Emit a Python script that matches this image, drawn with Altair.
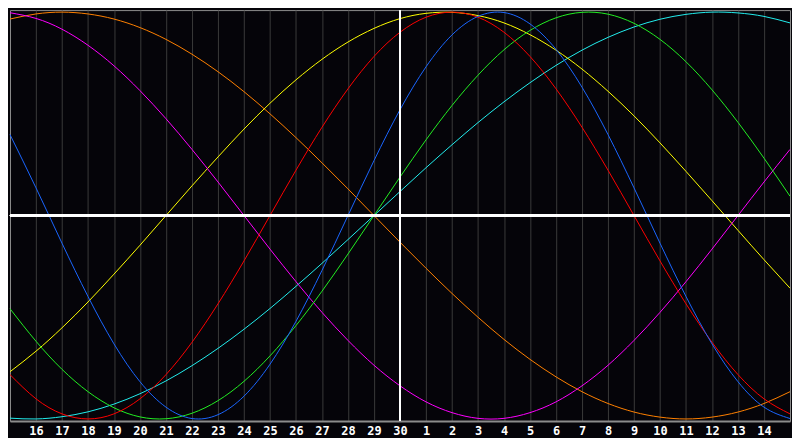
import altair as alt
import pandas as pd

# Day labels along the bottom (index 1..29), plot spans index 0..30
day_labels = ["16", "17", "18", "19", "20", "21", "22", "23", "24", "25", "26", "27", "28", "29", "30",
              "1", "2", "3", "4", "5", "6", "7", "8", "9", "10", "11", "12", "13", "14"]
day_index = list(range(31))
today_index = 15

# cycle values read per day (index 0..30)
physical = [0.398, 0.136, -0.136, -0.398, -0.631, -0.817, -0.942, -0.998, -0.979, -0.888, -0.731,
            -0.520, -0.270, 0.000, 0.270, 0.520, 0.731, 0.888, 0.979, 0.998, 0.942, 0.817, 0.631,
            0.398, 0.136, -0.136, -0.398, -0.631, -0.817, -0.942, -0.998]
emotional = [-0.782, -0.901, -0.975, -1.000, -0.975, -0.901, -0.782, -0.623, -0.434, -0.223, 0.000,
             0.223, 0.434, 0.623, 0.782, 0.901, 0.975, 1.000, 0.975, 0.901, 0.782, 0.623, 0.434,
             0.223, 0.000, -0.223, -0.434, -0.623, -0.782, -0.901, -0.975]
intellectual = [-0.458, -0.618, -0.756, -0.866, -0.945, -0.990, -0.999, -0.972, -0.910, -0.815,
                -0.690, -0.541, -0.372, -0.189, 0.000, 0.189, 0.372, 0.541, 0.690, 0.815, 0.910,
                0.972, 0.999, 0.990, 0.945, 0.866, 0.756, 0.618, 0.458, 0.282, 0.095]
intuitive = [0.997, 0.969, 0.916, 0.837, 0.736, 0.614, 0.476, 0.325, 0.165, 0.000, -0.165, -0.325,
             -0.476, -0.614, -0.736, -0.837, -0.916, -0.969, -0.997, -0.997, -0.969, -0.916, -0.837,
             -0.736, -0.614, -0.476, -0.325, -0.165, 0.000, 0.165, 0.325]
aesthetic = [-0.768, -0.667, -0.552, -0.425, -0.288, -0.146, 0.000, 0.146, 0.288, 0.425, 0.552,
             0.667, 0.768, 0.853, 0.920, 0.968, 0.994, 0.999, 0.983, 0.947, 0.889, 0.813, 0.720,
             0.611, 0.490, 0.357, 0.217, 0.073, -0.073, -0.217, -0.357]
awareness = [0.966, 0.991, 1.000, 0.991, 0.966, 0.924, 0.866, 0.793, 0.707, 0.609, 0.500, 0.383,
             0.259, 0.131, 0.000, -0.131, -0.259, -0.383, -0.500, -0.609, -0.707, -0.793, -0.866,
             -0.924, -0.966, -0.991, -1.000, -0.991, -0.966, -0.924, -0.866]
spiritual = [-0.996, -1.000, -0.989, -0.965, -0.927, -0.876, -0.813, -0.738, -0.653, -0.559, -0.457,
             -0.348, -0.235, -0.118, 0.000, 0.118, 0.235, 0.348, 0.457, 0.559, 0.653, 0.738, 0.813,
             0.876, 0.927, 0.965, 0.989, 1.000, 0.996, 0.979, 0.947]

series_names = ["spiritual", "awareness", "aesthetic", "intuitive", "intellectual", "emotional", "physical"]
series_colors = ["#22eeee", "#ff8000", "#ffff00", "#ff00ff", "#22ee22", "#ff0000", "#1a66ff"]
series_values = {
    "physical": physical, "emotional": emotional, "intellectual": intellectual,
    "intuitive": intuitive, "aesthetic": aesthetic, "awareness": awareness, "spiritual": spiritual,
}

rows = []
for name in series_names:
    for i, v in zip(day_index, series_values[name]):
        rows.append({"i": i, "v": v, "series": name})
df = pd.DataFrame(rows)

label_expr = "split('" + ",".join(day_labels) + "', ',')[datum.value - 1]"

x_scale = alt.Scale(domain=[0, 30], nice=False, zero=False)
y_scale = alt.Scale(domain=[-1.01, 1.01], nice=False)

x_axis = alt.Axis(values=list(range(1, 30)), labelExpr=label_expr, title=None,
                  grid=True, gridColor="#3a3a3a", gridWidth=1, ticks=False,
                  domain=True, domainColor="#8c8c8c", domainWidth=2,
                  labelColor="#ffffff", labelFont="DejaVu Sans Mono",
                  labelFontWeight="bold", labelFontSize=12, labelPadding=5,
                  labelOverlap=False)

lines = alt.Chart(df).mark_line(strokeWidth=1, interpolate="natural").encode(
    x=alt.X("i:Q", scale=x_scale, axis=x_axis),
    y=alt.Y("v:Q", scale=y_scale, axis=None),
    color=alt.Color("series:N", scale=alt.Scale(domain=series_names, range=series_colors), legend=None),
)

zero_rule = alt.Chart(df).mark_rule(color="#ffffff", strokeWidth=2).encode(
    y=alt.Y(datum=0, scale=y_scale, axis=None)
)
today_rule = alt.Chart(df).mark_rule(color="#ffffff", strokeWidth=2).encode(
    x=alt.X(datum=today_index, scale=x_scale, axis=x_axis)
)

chart = alt.layer(lines, zero_rule, today_rule).properties(
    width=784, height=413, padding=0, background="#050409"
).configure_view(
    stroke="#8c8c8c", strokeWidth=1
).configure_axisX(
    labelOverlap=False
)

chart.save("out.html", embed_options={"renderer": "svg", "actions": False})
